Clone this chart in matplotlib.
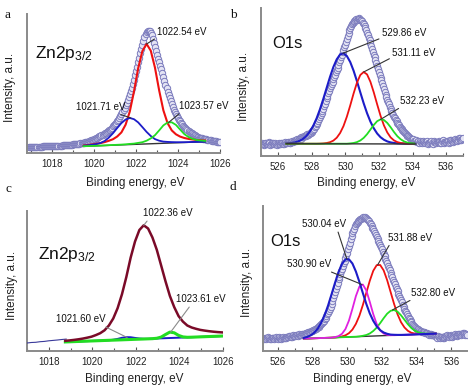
import numpy as np
import matplotlib
matplotlib.use("Agg")
import matplotlib.pyplot as plt
from matplotlib.ticker import MultipleLocator

plt.rcParams['font.family'] = ['Liberation Sans', 'DejaVu Sans']
plt.rcParams['mathtext.fontset'] = 'custom'
plt.rcParams['mathtext.rm'] = 'Liberation Sans'
plt.rcParams['mathtext.it'] = 'Liberation Sans'
plt.rcParams['mathtext.default'] = 'regular'

# ---------------- Panel a : Zn2p3/2 ----------------
a_data_x = np.round(np.arange(1016.9, 1026.001, 0.05), 2)
a_data_y = [5.9, 6.0,
            6.0, 6.05, 6.1, 6.15, 6.2, 6.25, 6.3, 6.35, 6.4, 6.45, 6.5, 6.55, 6.6, 6.65, 6.7, 6.75, 6.8, 6.85, 6.9, 6.95,
            7.0, 7.05, 7.1, 7.15, 7.2, 7.25, 7.3, 7.35, 7.4, 7.5, 7.6, 7.7, 7.8, 7.9, 8.0, 8.1, 8.2, 8.3, 8.4, 8.5,
            8.6, 8.75, 8.9, 9.05, 9.2, 9.35, 9.5, 9.7, 9.9, 10.1, 10.3, 10.6, 10.9, 11.2, 11.5, 11.8, 12.2, 12.6, 13.0, 13.5,
            14.0, 14.5, 15.0, 15.5, 16.0, 16.6, 17.2, 17.8, 18.4, 19.0, 19.6, 20.3, 21.0, 21.8, 22.6, 23.5, 24.5, 25.5, 26.6, 27.8,
            29.0, 30.5, 32.0, 33.5, 35.2, 37.0, 39.0, 41.0, 43.2, 45.5, 48.0, 50.5, 53.2, 56.0, 59.0, 62.0, 65.5, 69.5, 73.5, 77.8,
            82.0, 86.5, 91.0, 95.5, 100.0, 104.0, 108.0, 112.0, 116.0, 118.8, 121.0, 122.3, 122.5, 122.0, 120.5, 117.8, 114.0, 110.5, 106.5, 102.3,
            98.0, 94.5, 91.0, 87.5, 84.0, 80.0, 76.0, 72.2, 68.5, 64.8, 61.0, 58.0, 55.0, 52.0, 49.0, 46.0, 43.5, 41.0, 38.8, 36.8,
            35.0, 33.3, 31.6, 30.0, 28.7, 27.5, 26.3, 25.2, 24.1, 23.0, 22.0, 21.2, 20.4, 19.6, 18.9, 18.2, 17.6, 17.0, 16.5, 16.0,
            15.5, 15.2, 14.9, 14.6, 14.3, 14.0, 13.8, 13.6, 13.4, 13.1, 12.8, 12.6, 12.4, 12.2, 12.0, 11.8, 11.6, 11.4, 11.25, 11.1,
            11.0]
a_fit_x = np.round(np.arange(1019.5, 1025.301, 0.2), 2)
a_red = [7.5, 8.0, 8.5, 9.2, 9.9, 10.9, 12.2, 13.8, 16.5, 20.6, 28.3, 41.5, 61.6, 84.8,
         101.9, 109.1, 102.3, 85.4, 62.6, 42.7, 29.9, 22.6, 18.7, 16.4, 15.0, 14.1, 13.5,
         13.0, 12.7, 12.4]
a_blue = [7.3, 7.7, 8.2, 8.9, 10.0, 12.0, 15.4, 19.8, 25.0, 29.9, 33.5, 35.0, 33.8, 30.6,
          25.9, 21.1, 17.0, 13.9, 12.3, 11.4, 11.1, 10.9, 10.8, 10.8, 10.8, 10.9, 11.1,
          11.1, 11.2, 11.4]
a_green = [6.8, 6.9, 7.1, 7.2, 7.4, 7.6, 7.8, 8.0, 8.2, 8.4, 8.7, 9.1, 9.4, 10.1, 10.8,
           12.3, 14.6, 17.8, 22.6, 27.6, 30.5, 30.7, 28.1, 23.4, 18.9, 16.0, 14.1, 12.9,
           12.5, 12.1]
a_base_x = [1019.5, 1025.3]
a_base_y = [6.7, 11.3]
a_peaks = ["1022.54 eV", "1021.71 eV", "1023.57 eV"]

# ---------------- Panel b : O1s ----------------
b_data_x = np.round(np.arange(525.0, 537.001, 0.05), 2)
b_data_y = [12.0, 13.2, 12.5, 11.4, 12.0, 13.5, 12.8, 11.8, 12.4, 13.6, 12.7, 11.5, 12.2, 13.4, 12.6, 11.6, 12.3, 13.2, 12.0, 11.4,
            12.0, 13.0, 12.2, 11.6, 12.8, 13.4, 12.5, 12.0, 13.2, 13.8, 13.0, 12.6, 13.6, 14.2, 13.5, 13.2, 14.4, 15.0, 14.5, 15.4,
            16.0, 15.4, 16.4, 17.0, 16.5, 17.4, 18.0, 17.5, 18.6, 19.2, 19.0, 19.8, 20.4, 20.0, 21.0, 21.6, 21.5, 22.4, 23.0, 23.4,
            24.0, 25.0, 26.2, 27.5, 28.8, 30.2, 31.8, 33.3, 35.0, 37.0, 39.0, 41.0, 43.2, 45.3, 47.5, 50.0, 52.5, 55.2, 57.8, 60.5,
            63.0, 65.4, 67.6, 69.8, 72.0, 74.2, 76.6, 79.0, 81.2, 83.6, 86.0, 88.5, 91.0, 93.6, 96.0, 98.6, 101.2, 103.8, 106.2, 108.6,
            111.0, 114.0, 117.2, 120.0, 123.2, 126.0, 128.0, 130.0, 132.0, 133.2, 134.0, 135.2, 136.0, 137.0, 136.4, 137.0, 138.2, 137.0, 136.4, 135.8,
            135.0, 133.5, 131.6, 129.8, 128.0, 126.0, 123.5, 121.0, 118.2, 115.6, 113.0, 110.0, 107.0, 104.2, 101.4, 98.6, 95.6, 92.8, 89.8, 87.0,
            84.0, 81.2, 78.4, 75.6, 72.8, 70.0, 67.0, 64.2, 61.4, 58.6, 56.0, 53.8, 51.6, 49.4, 47.2, 45.0, 43.0, 41.2, 39.4, 37.6,
            36.0, 34.6, 33.3, 32.0, 30.7, 29.5, 28.3, 27.2, 26.1, 25.0, 24.0, 23.0, 22.2, 21.3, 20.5, 19.8, 19.0, 18.2, 17.5, 16.8,
            16.0, 16.8, 15.4, 14.6, 15.6, 14.2, 13.6, 14.8, 13.4, 14.6, 14.0, 12.8, 14.2, 15.2, 13.8, 12.6, 13.6, 14.8, 13.2, 12.4,
            13.0, 14.2, 15.0, 13.4, 12.4, 13.8, 15.2, 14.0, 12.8, 13.6, 14.0, 15.4, 14.2, 12.6, 13.4, 15.0, 15.6, 14.0, 12.8, 13.8,
            14.0, 15.4, 14.6, 13.0, 14.2, 15.8, 16.4, 15.0, 13.8, 15.2, 16.0, 17.2, 16.4, 15.0, 16.2, 17.6, 18.0, 16.4, 15.6, 17.0,
            17.7]
b_fit_x = np.round(np.arange(526.5, 534.101, 0.2), 2)
b_blue = [12.5, 12.8, 13.2, 14.0, 15.2, 17.2, 20.1, 24.4, 30.1, 37.5, 46.6, 57.0, 68.1,
          79.1, 89.0, 96.7, 101.5, 102.7, 100.0, 94.0, 85.3, 74.8, 63.6, 52.7, 42.8, 34.4,
          27.7, 22.5, 18.8, 16.3, 14.6, 13.6, 13.0, 12.7, 12.5, 12.4, 12.3, 12.3, 12.3]
b_red = [12.3, 12.3, 12.3, 12.3, 12.3, 12.3, 12.3, 12.3, 12.3, 12.3, 12.4, 12.6, 13.0,
         13.8, 15.4, 18.3, 23.0, 29.9, 39.3, 50.5, 62.5, 73.3, 81.0, 84.0, 81.6, 74.2, 63.6,
         51.7, 40.3, 30.7, 23.6, 18.6, 15.6, 13.9, 13.0, 12.6, 12.4, 12.3, 12.3]
b_green = [12.3, 12.3, 12.3, 12.3, 12.3, 12.3, 12.3, 12.3, 12.3, 12.3, 12.3, 12.3, 12.3,
           12.3, 12.3, 12.3, 12.3, 12.3, 12.3, 12.6, 13.0, 13.9, 15.5, 18.1, 21.8, 26.4,
           31.0, 34.8, 36.6, 36.0, 33.1, 28.8, 24.0, 19.8, 16.7, 14.6, 13.4, 12.8, 12.5]
b_base_x = [526.5, 534.2]
b_base_y = [12.3, 12.0]
b_peaks = ["529.86 eV", "531.11 eV", "532.23 eV"]

# ---------------- Panel c : Zn2p3/2 ----------------
c_raw_x = [1017.0, 1017.2, 1017.4, 1017.6, 1017.8, 1018.0, 1018.2, 1018.4, 1018.6, 1018.8]
c_raw_y = [8.0, 8.5, 8.7, 9.3, 9.6, 10.2, 10.6, 11.0, 11.5, 11.9]
c_fit_x = np.round(np.arange(1018.76, 1025.961, 0.2), 2)
c_main = [10.2, 10.6, 11.1, 11.7, 12.4, 13.3, 14.3, 15.9, 17.8, 20.7, 25.5, 32.5, 42.8,
          56.7, 73.9, 93.4, 109.5, 121.0, 125.7, 122.5, 113.5, 101.2, 85.5, 69.7, 55.1,
          43.9, 34.9, 29.4, 25.5, 23.5, 22.2, 21.1, 20.4, 19.8, 19.3, 18.9, 18.6]
c_blue = [9.05, 9.21, 9.38, 9.54, 9.71, 9.87, 10.04, 10.20, 10.36, 10.53, 10.74, 11.26,
          12.1, 13.2, 13.85, 13.76, 13.08, 12.5, 12.2, 12.17, 12.33, 12.50, 12.66, 12.82,
          12.99, 13.15, 13.32, 13.48, 13.64, 13.81, 13.97, 14.14, 14.30, 14.47, 14.63,
          14.79, 14.96]
c_green = [9.05, 9.21, 9.38, 9.54, 9.71, 9.87, 10.04, 10.20, 10.36, 10.53, 10.69, 10.86,
           11.02, 11.18, 11.35, 11.51, 11.68, 11.84, 12.0, 12.17, 12.33, 12.74, 13.92,
           16.5, 18.9, 18.2, 15.6, 14.1, 13.7, 13.81, 13.97, 14.14, 14.30, 14.47, 14.63,
           14.79, 14.96]
c_peaks = ["1022.36 eV", "1021.60 eV", "1023.61 eV"]

# ---------------- Panel d : O1s ----------------
d_data_x = np.round(np.arange(525.2, 536.901, 0.05), 2)
d_data_y = [12.3, 13.4, 12.8, 12.0, 13.0, 14.0, 13.2, 12.4, 11.6, 12.6, 13.4, 12.8, 12.0, 13.2, 13.8, 12.6,
            12.3, 13.2, 14.0, 13.0, 12.2, 13.2, 14.2, 13.4, 12.6, 13.6, 13.3, 14.4, 13.8, 14.6, 15.2, 14.4, 14.0, 15.2, 15.6, 14.8,
            15.0, 15.8, 16.2, 15.4, 16.0, 16.8, 16.4, 15.8, 16.6, 17.2, 16.7, 17.4, 18.0, 17.6, 18.2, 19.0, 18.8, 19.2, 19.8, 19.6,
            20.0, 20.6, 21.2, 21.8, 22.4, 23.0, 23.6, 24.2, 25.0, 25.8, 26.7, 27.8, 29.0, 30.4, 31.8, 33.4, 35.0, 36.6, 38.4, 40.0,
            41.7, 44.4, 47.2, 50.0, 53.0, 56.0, 59.0, 62.0, 65.2, 68.4, 71.7, 74.4, 77.0, 79.8, 82.4, 85.0, 87.8, 90.4, 93.0, 95.6,
            98.3, 101.6, 105.0, 108.2, 111.6, 115.0, 117.6, 120.0, 122.4, 124.6, 126.7, 128.0, 129.4, 130.4, 131.2, 131.7, 132.4, 133.0, 133.6, 133.2,
            133.3, 133.6, 132.8, 131.6, 131.0, 130.0, 128.4, 126.6, 124.8, 123.2, 121.7, 119.8, 117.6, 115.6, 113.6, 111.7, 109.6, 107.6, 105.6, 103.6,
            101.7, 99.4, 97.0, 94.8, 92.4, 90.0, 87.6, 85.2, 83.0, 80.6, 78.3, 76.0, 73.6, 71.2, 69.0, 66.6, 64.4, 62.0, 59.6, 57.2,
            55.0, 52.8, 50.6, 48.6, 46.4, 44.4, 42.4, 40.4, 38.6, 36.8, 35.0, 33.4, 31.8, 30.2, 28.8, 27.4, 26.0, 24.8, 23.6, 22.6,
            21.7, 21.0, 21.8, 20.6, 19.6, 20.2, 19.4, 18.6, 19.2, 18.8, 18.3, 17.6, 18.2, 17.0, 16.4, 17.2, 16.6, 15.8, 16.4, 16.0,
            15.7, 14.6, 15.2, 14.0, 13.4, 14.6, 13.8, 12.8, 13.6, 14.2, 13.3, 12.6, 13.8, 14.6, 15.4, 16.2, 15.0, 14.2, 15.0, 15.8,
            15.0, 13.8, 14.6, 15.8, 16.6, 15.6, 14.8, 15.8, 17.0, 17.4, 16.7, 15.8, 16.6, 17.8, 18.4, 17.2, 16.2, 17.0, 16.4]
d_fit_x = np.round(np.arange(527.5, 535.101, 0.2), 2)
d_blue = [13.1, 14.1, 15.7, 18.3, 22.3, 28.2, 35.9, 45.6, 56.8, 68.3, 78.8, 87.1, 91.6,
          91.7, 87.5, 79.5, 69.2, 58.0, 47.1, 37.6, 30.2, 24.6, 20.8, 18.5, 17.2, 16.4,
          16.2, 16.1, 16.1, 16.17, 16.30, 16.43, 16.57, 16.70, 16.83, 16.97, 17.10, 17.23,
          17.37]
d_magenta = [12.3, 12.43, 12.57, 12.70, 12.83, 12.97, 13.10, 13.23, 13.37, 13.9, 14.9, 17.2,
             22.0, 30.4, 42.2, 54.9, 64.3, 66.5, 60.6, 49.2, 36.9, 26.9, 20.6, 17.5, 16.2,
             15.8, 15.77, 15.90, 16.03, 16.17, 16.30, 16.43, 16.57, 16.70, 16.83, 16.97,
             17.10, 17.23, 17.37]
d_red = [12.3, 12.43, 12.57, 12.70, 12.83, 12.97, 13.10, 13.23, 13.37, 13.5, 13.9, 14.6,
         15.7, 17.8, 21.4, 27.1, 35.2, 45.9, 58.1, 70.2, 80.2, 85.9, 86.0, 80.6, 70.9, 59.0,
         47.1, 36.7, 28.8, 23.5, 20.1, 18.2, 17.4, 17.0, 16.9, 17.0, 17.1, 17.2, 17.4]
d_green = [12.3, 12.43, 12.57, 12.70, 12.83, 12.97, 13.10, 13.23, 13.37, 13.50, 13.63, 13.77,
           13.90, 14.03, 14.17, 14.30, 14.6, 15.2, 16.0, 17.5, 20.0, 23.4, 27.9, 32.8, 37.3,
           40.2, 41.0, 39.3, 35.7, 31.2, 26.7, 22.9, 20.3, 18.6, 17.7, 17.4, 17.2, 17.3, 17.4]
d_base_x = [527.5, 535.0]
d_base_y = [12.3, 17.3]
d_peaks = ["530.04 eV", "530.90 eV", "531.88 eV", "532.80 eV"]

# ---------------- styling ----------------
RED = '#ee1111'
BLUE = '#1c1cc8'
GREEN = '#22dd22'
MAGENTA = '#e020e0'
MAROON = '#7a0a28'
MK_EDGE = '#7a7abc'
MK_FACE = '#e4e4f4'
SPINE = '#8a8a8a'

W, H = 474, 392
fig = plt.figure(figsize=(W / 100, H / 100), dpi=100)


def make_ax(left, top, right, bottom, xlim, ytop):
    ax = fig.add_axes([left / W, 1 - bottom / H, (right - left) / W, (bottom - top) / H])
    ax.set_xlim(*xlim)
    ax.set_ylim(0, ytop)
    for s in ['top', 'right']:
        ax.spines[s].set_visible(False)
    for s in ['left', 'bottom']:
        ax.spines[s].set_color(SPINE)
        ax.spines[s].set_linewidth(1.4)
    ax.set_yticks([])
    ax.xaxis.set_major_locator(MultipleLocator(2))
    ax.xaxis.set_minor_locator(MultipleLocator(1))
    ax.tick_params(axis='x', which='both', direction='in', colors='#555555',
                   labelcolor='#222222', labelsize=7, pad=4)
    ax.tick_params(axis='x', which='major', length=3, width=0.8)
    ax.tick_params(axis='x', which='minor', length=2, width=0.8)
    ax.set_xlabel('Binding energy, eV', fontsize=8.5, color='#222222')
    ax.set_ylabel('Intensity, a.u.', fontsize=8.5, color='#222222')
    return ax


def scatter(ax, x, y):
    ax.plot(x, y, linestyle='none', marker='o', ms=4.6, mew=0.7,
            mec=MK_EDGE, mfc=MK_FACE, zorder=2)


def label(ax, text, xy, xytext, relpos, color='#333333'):
    ax.annotate(text, xy=xy, xytext=xytext, fontsize=7.0, ha='center', va='center',
                color='#111111', annotation_clip=False,
                arrowprops=dict(arrowstyle='-', color=color, lw=0.8, shrinkA=0,
                                shrinkB=0, relpos=relpos), zorder=6)


# ----- a -----
ax = make_ax(27, 14, 220, 153, (1016.8, 1026), 139)
scatter(ax, a_data_x, a_data_y)
ax.plot(a_base_x, a_base_y, color='#333333', lw=1.0, zorder=3)
ax.plot(a_fit_x, a_red, color=RED, lw=1.5, zorder=4)
ax.plot(a_fit_x, a_blue, color=BLUE, lw=1.3, zorder=4)
ax.plot(a_fit_x, a_green, color=GREEN, lw=1.3, zorder=4)
label(ax, a_peaks[0], (1022.5, 109), (1024.19, 120.7), (0.0, 0.0))
label(ax, a_peaks[1], (1021.75, 35), (1020.30, 46.3), (0.75, 0.0))
label(ax, a_peaks[2], (1023.55, 30.5), (1025.22, 47.0), (0.07, 0.0))
ax.text(1017.2, 99.3, 'Zn2p$_{3/2}$', fontsize=12.5, ha='left', va='center', color='#111111')
ax.yaxis.set_label_coords(-0.057, 0.47)
ax.xaxis.set_label_coords(0.56, -0.173)

# ----- b -----
ax = make_ax(261, 8, 463, 156, (525, 537), 148)
scatter(ax, b_data_x, b_data_y)
ax.plot(b_fit_x, b_blue, color=BLUE, lw=1.5, zorder=4)
ax.plot(b_fit_x, b_red, color=RED, lw=1.3, zorder=4)
ax.plot(b_fit_x, b_green, color=GREEN, lw=1.3, zorder=4)
ax.plot(b_base_x, b_base_y, color='#333333', lw=1.0, zorder=4)
label(ax, b_peaks[0], (529.86, 102.7), (533.49, 122.7), (0.03, 0.1))
label(ax, b_peaks[1], (531.1, 84.0), (534.08, 102.7), (0.0, 0.1))
label(ax, b_peaks[2], (532.1, 36.5), (534.57, 55.3), (0.07, 0.0))
ax.text(525.65, 113, 'O1s', fontsize=12, ha='left', va='center', color='#111111')
ax.yaxis.set_label_coords(-0.054, 0.47)
ax.xaxis.set_label_coords(0.52, -0.143)

# ----- c -----
ax = make_ax(27, 211, 223, 351, (1017, 1026), 140)
ax.plot(c_raw_x, c_raw_y, color='#3a3a9a', lw=0.8, zorder=3)
ax.plot(c_fit_x, c_blue, color=BLUE, lw=1.4, zorder=3)
ax.plot(c_fit_x, c_green, color=GREEN, lw=2.2, zorder=4)
ax.plot(c_fit_x, c_main, color=MAROON, lw=1.8, zorder=5)
label(ax, c_peaks[0], (1022.36, 125.7), (1023.48, 137.7), (0.12, 0.0), color='#8a8a8a')
label(ax, c_peaks[1], (1021.6, 13.5), (1019.45, 31.7), (0.9, 0.0), color='#8a8a8a')
label(ax, c_peaks[2], (1023.6, 19.0), (1025.0, 51.7), (0.3, 0.0), color='#8a8a8a')
ax.text(1017.52, 96.7, 'Zn2p$_{3/2}$', fontsize=12.5, ha='left', va='center', color='#111111')
ax.yaxis.set_label_coords(-0.047, 0.47)
ax.xaxis.set_label_coords(0.546, -0.157)

# ----- d -----
ax = make_ax(263, 206, 467, 351, (525.15, 536.9), 145)
scatter(ax, d_data_x, d_data_y)
ax.plot(d_base_x, d_base_y, color='#333333', lw=1.0, zorder=3)
ax.plot(d_fit_x, d_red, color=RED, lw=1.3, zorder=4)
ax.plot(d_fit_x, d_green, color=GREEN, lw=1.3, zorder=4)
ax.plot(d_fit_x, d_magenta, color=MAGENTA, lw=1.3, zorder=4)
ax.plot(d_fit_x, d_blue, color=BLUE, lw=1.5, zorder=4)
label(ax, d_peaks[0], (529.98, 92.0), (528.66, 126.7), (0.8, 0.0))
label(ax, d_peaks[1], (530.85, 66.5), (527.81, 86.7), (0.85, 0.0))
label(ax, d_peaks[2], (531.75, 86.0), (533.6, 113.3), (0.07, 0.0))
label(ax, d_peaks[3], (532.6, 41.0), (534.93, 58.3), (0.1, 0.0))
ax.text(525.58, 110, 'O1s', fontsize=12, ha='left', va='center', color='#111111')
ax.yaxis.set_label_coords(-0.049, 0.47)
ax.xaxis.set_label_coords(0.485, -0.152)

# panel letters
for txt, (px, py) in zip('abcd', [(8, 15), (233, 15), (8, 189), (233, 187)]):
    fig.text(px / W, 1 - py / H, txt, fontsize=9.5, family='Liberation Serif',
             ha='center', va='center', color='#111111')

fig.savefig('out.png', dpi=100)
